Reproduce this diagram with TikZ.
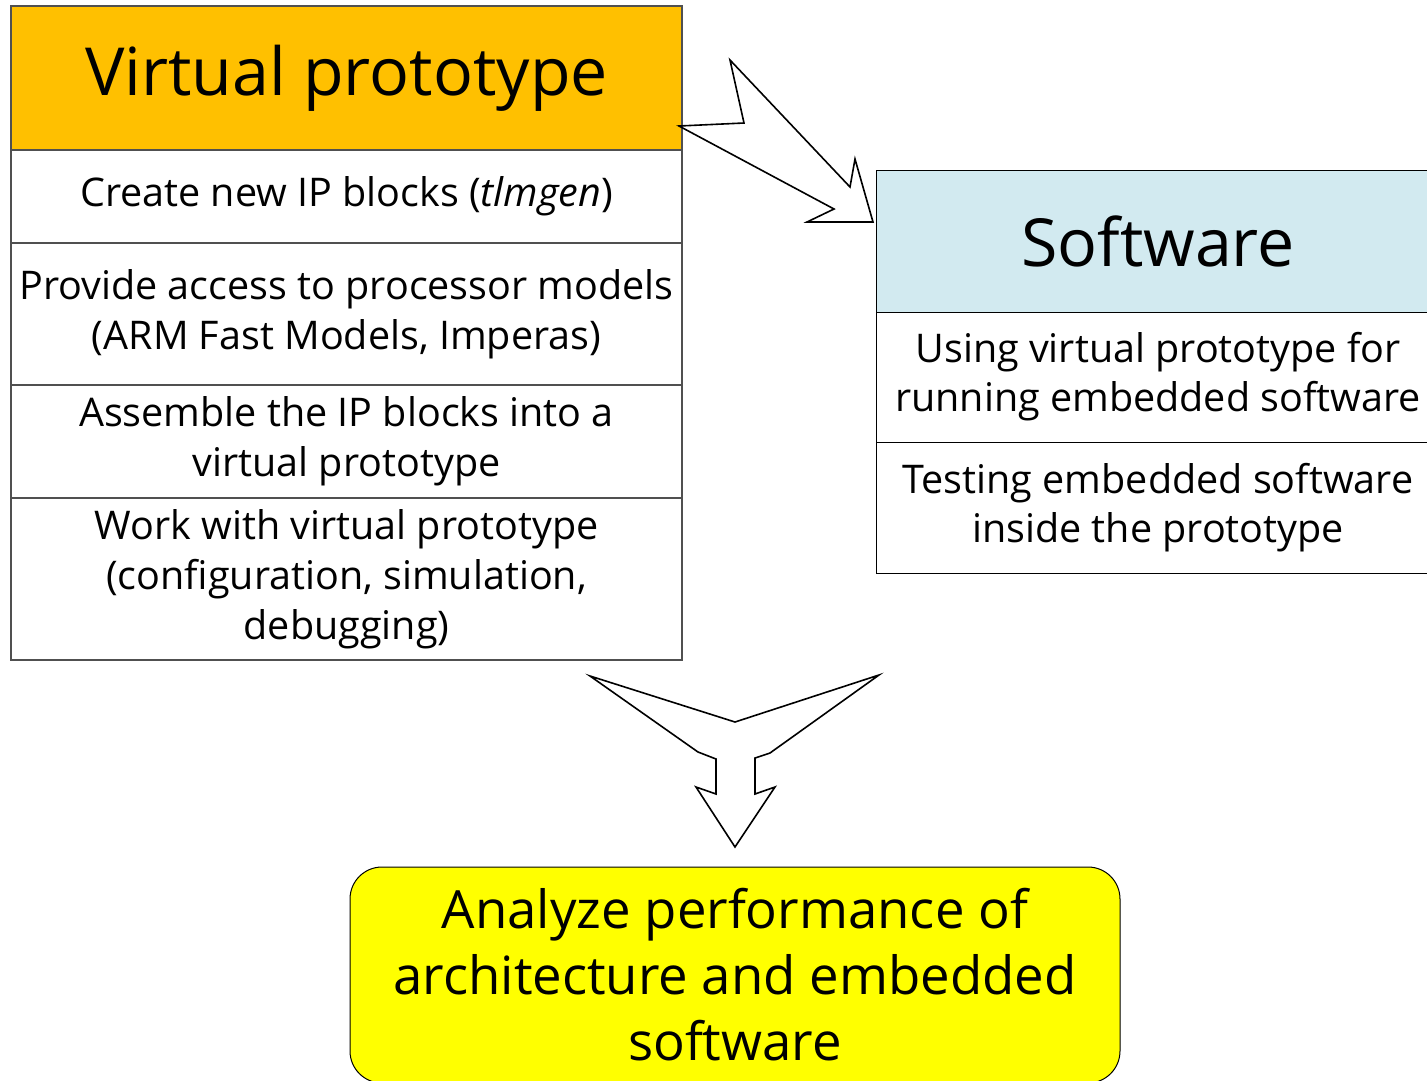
\documentclass[tikz,border=0pt]{standalone}
\usepackage{fontspec}
\setmainfont{Open Sans}
\definecolor{vporange}{HTML}{FFC000}
\definecolor{swblue}{HTML}{D2EAF0}
\definecolor{anyellow}{HTML}{FFFF00}
\definecolor{edgegrey}{HTML}{505050}
\begin{document}
\begin{tikzpicture}[x=1pt,y=-1pt,
  cell/.style={draw=edgegrey, line width=1.3pt, rectangle, inner sep=0pt, align=center, font=\fontsize{39.5}{50}\selectfont},
  rcell/.style={draw=black, line width=1pt, rectangle, inner sep=0pt, align=center, font=\fontsize{39.5}{49}\selectfont},
  bigtitle/.style={font=\fontsize{66.3}{70}\selectfont},
  blockarrow/.style={draw=black, line width=1.6pt, fill=white, line join=miter}
]
\useasboundingbox (0,0) rectangle (1427,1080);
% left table
\node[cell, bigtitle, fill=vporange, minimum width=671, minimum height=144] (vp) at (346.5,78) {Virtual prototype};
\node[cell, minimum width=671, minimum height=93] (r1) at (346.5,196.5) {Create new IP blocks (\textit{tlmgen})};
\node[cell, minimum width=671, minimum height=142] (r2) at (346.5,314) {Provide access to processor models\\(ARM Fast Models, Imperas)};
\node[cell, minimum width=671, minimum height=113] (r3) at (346.5,441.5) {Assemble the IP blocks into a\\virtual prototype};
\node[cell, minimum width=671, minimum height=162] (r4) at (346.5,579) {Work with virtual prototype\\(configuration, simulation,\\debugging)};
% right table
\node[rcell, bigtitle, fill=swblue, minimum width=564, minimum height=142] (sw) at (1158,241) {Software};
\node[rcell, minimum width=564, minimum height=130] (s1) at (1158,377) {Using virtual prototype for\\running embedded software};
\node[rcell, minimum width=564, minimum height=131] (s2) at (1158,507.5) {Testing embedded software\\inside the prototype};
% bottom
\node[draw=black, line width=1pt, fill=anyellow, rounded corners=32pt, minimum width=770, minimum height=216, inner sep=0pt, align=center, font=\fontsize{52.7}{66}\selectfont] (an) at (735,975) {Analyze performance of\\architecture and embedded\\software};
% top block arrow
\draw[blockarrow] (679,126) -- (744,123) -- (730,60) -- (850,187) -- (855,159) -- (873,222) -- (807,222) -- (834,209) -- cycle;
% bottom block arrow
\draw[blockarrow] (590,676) -- (735,722) -- (879,675) -- (770,753) -- (755,758) -- (755,794) -- (775,787) -- (735,847) -- (696,787) -- (716,794) -- (716,759) -- (698,752) -- cycle;
\end{tikzpicture}
\end{document}
